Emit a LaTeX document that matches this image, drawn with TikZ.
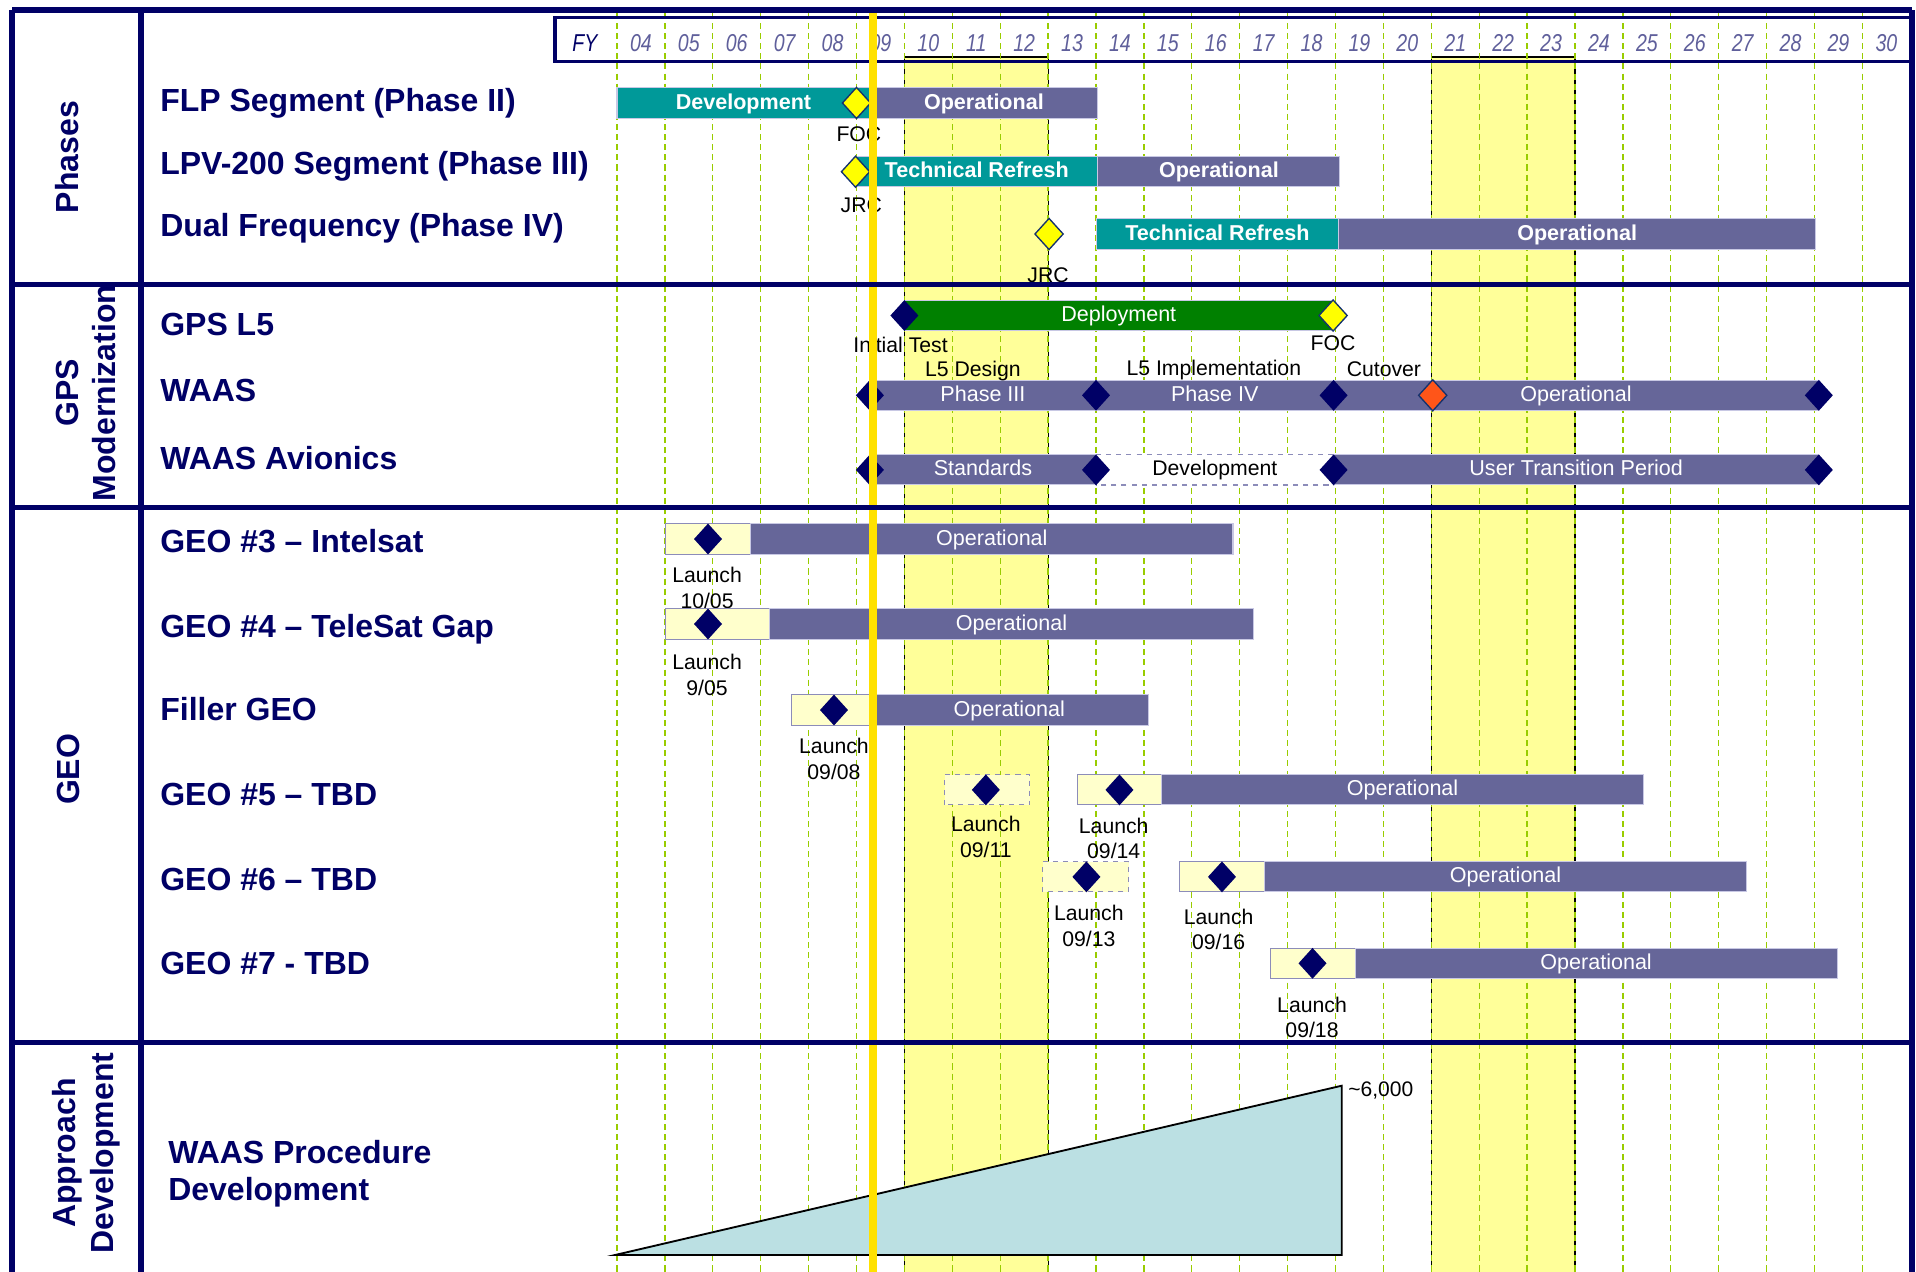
\documentclass[tikz,border=0pt]{standalone}
\usepackage{fontspec}
\setmainfont{Liberation Sans}
\newfontfamily\fyfont[FakeStretch=0.8]{Liberation Sans}
\usetikzlibrary{shapes.geometric}

\definecolor{navy}{RGB}{0,0,102}
\definecolor{tealbar}{RGB}{0,153,153}
\definecolor{slatebar}{RGB}{102,102,153}
\definecolor{greenbar}{RGB}{0,128,0}
\definecolor{msyellow}{RGB}{255,255,0}
\definecolor{msorange}{RGB}{255,85,25}
\definecolor{msedge}{RGB}{20,50,110}
\definecolor{hiyellow}{RGB}{255,255,153}
\definecolor{geobox}{RGB}{255,255,204}
\definecolor{nowline}{RGB}{255,225,0}
\definecolor{gridgreen}{RGB}{153,204,0}
\definecolor{fygray}{RGB}{95,95,155}
\definecolor{barline}{RGB}{200,200,228}
\definecolor{boxline}{RGB}{140,140,185}
\definecolor{rampfill}{RGB}{187,224,227}

\begin{document}
\begin{tikzpicture}
	\tikzset{frame/.style = {draw=navy, line width=3pt}}
	\tikzset{gridline/.style = {draw=gridgreen, line width=0.8pt, dash pattern=on 3.6pt off 2.4pt}}
	\tikzset{bar/.style = {draw=barline, line width=0.6pt}}
	\tikzset{launchbox/.style = {fill=geobox, draw=boxline, line width=0.6pt}}
	\tikzset{milestone/.style = {shape=diamond, fill=navy, inner sep=0pt, minimum width=0.59cm, minimum height=0.65cm}}
	\tikzset{keydate/.style = {milestone, draw=msedge, line width=0.8pt, minimum width=0.6cm, minimum height=0.66cm}}
	\tikzset{rowlabel/.style = {anchor=base west, inner sep=0pt, text=navy, font=\bfseries\fontsize{19}{22}\selectfont}}
	\tikzset{section/.style = {rotate=90, align=center, inner sep=0pt, text=navy, font=\bfseries\fontsize{19}{22.5}\selectfont}}
	\tikzset{boldlabel/.style = {text=white, inner sep=0pt, text height=0.72em, text depth=0pt, font=\bfseries\fontsize{12.8}{15}\selectfont}}
	\tikzset{barlabel/.style = {text=white, inner sep=0pt, text height=0.72em, text depth=0pt, font=\fontsize{12.8}{15}\selectfont}}
	\tikzset{note/.style = {align=center, inner sep=0pt, font=\fontsize{12.6}{15.2}\selectfont}}
	\useasboundingbox (-8.881,-26.555) rectangle (31.119,0);
	\fill[white] (-8.881,-26.555) rectangle (31.119,0);
	% highlighted years
	\foreach \xa/\xb in {10/13, 21/24} {
		\fill[hiyellow] (\xa,-1.19) rectangle (\xb,-26.6);
		\draw[black, line width=0.7pt] (\xa,-26.6) -- (\xa,-1.19) -- (\xb,-1.19) -- (\xb,-26.6);
	}
	% year grid
	\foreach \x in {4,...,30}
		\draw[gridline] (\x,-0.27) -- (\x,-26.6);
	% fiscal years
	\draw[navy, line width=2.1pt] (2.706,-0.37) rectangle (31.03,-1.28);
	\node[text=navy, font=\fyfont\itshape\fontsize{14.5}{16}\selectfont] (fy) at (3.33,-0.898) {FY};
	\foreach \x in {4,...,30}
		\node[text=fygray, font=\fyfont\itshape\fontsize{14.5}{16}\selectfont] (fy\x) at (\x+0.5,-0.898) {\ifnum\x<10 0\fi\x};
	% row labels
	\node[rowlabel] (flp) at (-5.541,-2.332) {FLP Segment (Phase II)};
	\node[rowlabel] (lpv) at (-5.541,-3.653) {LPV-200 Segment (Phase III)};
	\node[rowlabel] (dual) at (-5.541,-4.941) {Dual Frequency (Phase IV)};
	\node[rowlabel] (gpsl5) at (-5.541,-6.994) {GPS L5};
	\node[rowlabel] (waas) at (-5.541,-8.386) {WAAS};
	\node[rowlabel] (avionics) at (-5.541,-9.798) {WAAS Avionics};
	\node[rowlabel] (geo3) at (-5.541,-11.531) {GEO \#3 -- Intelsat};
	\node[rowlabel] (geo4) at (-5.541,-13.299) {GEO \#4 -- TeleSat Gap};
	\node[rowlabel] (filler) at (-5.541,-15.052) {Filler GEO};
	\node[rowlabel] (geo5) at (-5.541,-16.815) {GEO \#5 -- TBD};
	\node[rowlabel] (geo6) at (-5.541,-18.583) {GEO \#6 -- TBD};
	\node[rowlabel] (geo7) at (-5.541,-20.338) {GEO \#7 - TBD};
	\node[rowlabel, anchor=west, align=left] (procdev) at (-5.374,-24.50) {WAAS Procedure\\Development};
	% section labels
	\node[section] (phases) at (-7.482,-3.278) {Phases};
	\node[section] (gpsmod) at (-7.086,-8.205) {GPS\\Modernization};
	\node[section] (geo) at (-7.45,-16.063) {GEO};
	\node[section] (appdev) at (-7.086,-24.071) {Approach\\Development};
	% phases
	\begin{scope}[yshift=-2.15cm]
		\path[bar, fill=tealbar] (4,-0.315) rectangle (9.28,0.315) node[midway, boldlabel] (dev1) {Development};
		\path[bar, fill=slatebar] (9.28,-0.315) rectangle (14.04,0.315) node[midway, boldlabel] (op1) {Operational};
		\node[keydate, fill=msyellow] (foc1) at (9.0,0) {};
		\node[note] (foc1lbl) at (9.05,-0.662) {FOC};
	\end{scope}
	\begin{scope}[yshift=-3.585cm]
		\path[bar, fill=tealbar] (8.98,-0.315) rectangle (14.04,0.315) node[midway, boldlabel] (ref2) {Technical Refresh};
		\path[bar, fill=slatebar] (14.04,-0.315) rectangle (19.09,0.315) node[midway, boldlabel] (op2) {Operational};
		\node[keydate, fill=msyellow] (jrc2) at (8.98,0) {};
		\node[note] (jrc2lbl) at (9.1,-0.695) {JRC};
	\end{scope}
	\begin{scope}[yshift=-4.885cm]
		\path[bar, fill=tealbar] (14.0,-0.315) rectangle (19.07,0.315) node[midway, boldlabel] (ref3) {Technical Refresh};
		\path[bar, fill=slatebar] (19.07,-0.315) rectangle (29.02,0.315) node[midway, boldlabel] (op3) {Operational};
		\node[keydate, fill=msyellow] (jrc3) at (13.02,0) {};
		\node[note] (jrc3lbl) at (13.0,-0.856) {JRC};
	\end{scope}
	% gps modernization
	\begin{scope}[yshift=-6.587cm]
		\path[bar, fill=greenbar] (10.0,-0.315) rectangle (18.95,0.315) node[midway, barlabel] (deploy) {Deployment};
		\node[milestone] (inittest) at (10.0,0) {};
		\node[keydate, fill=msyellow] (focl5) at (18.95,0) {};
		\node[note] (inittestlbl) at (9.92,-0.616) {Initial Test};
		\node[note] (focl5lbl) at (18.95,-0.574) {FOC};
	\end{scope}
	\begin{scope}[yshift=-8.253cm]
		\path[bar, fill=slatebar] (9.28,-0.315) rectangle (29.09,0.315);
		\node[barlabel] (ph3) at (11.64,0) {Phase III};
		\node[barlabel] (ph4) at (16.48,0) {Phase IV};
		\node[barlabel] (waasop) at (24.02,0) {Operational};
		\foreach \x [count=\i] in {9.28, 14.0, 18.96, 29.09}
			\node[milestone] (waasm\i) at (\x,0) {};
		\node[keydate, fill=msorange] (cutover) at (21.03,0) {};
		\node[note] (l5design) at (11.43,0.514) {L5 Design};
		\node[note] (l5impl) at (16.46,0.529) {L5 Implementation};
		\node[note] (cutoverlbl) at (20.01,0.549) {Cutover};
	\end{scope}
	\begin{scope}[yshift=-9.81cm]
		\path[bar, fill=slatebar] (9.28,-0.315) rectangle (14.0,0.315) node[midway, barlabel] (stds) {Standards};
		\path[fill=white, draw=boxline, line width=0.7pt, dashed] (14.0,-0.315) rectangle (18.96,0.315) node[midway, note, text height=0.72em, text depth=0pt] (avdev) {Development};
		\path[bar, fill=slatebar] (18.96,-0.315) rectangle (29.09,0.315) node[midway, barlabel] (transition) {User Transition Period};
		\foreach \x [count=\i] in {9.28, 14.0, 18.96, 29.09}
			\node[milestone] (avm\i) at (\x,0) {};
	\end{scope}
	% geo
	\begin{scope}[yshift=-11.253cm]
		\path[launchbox] (5.02,-0.315) rectangle (6.79,0.315);
		\path[bar, fill=slatebar] (6.79,-0.315) rectangle (16.86,0.315) node[midway, barlabel] (op3geo) {Operational};
		\node[milestone] (launch3) at (5.90,0) {};
		\node[note] (launch3lbl) at (5.88,-1.017) {Launch\\10/05};
	\end{scope}
	\begin{scope}[yshift=-13.027cm]
		\path[launchbox] (5.02,-0.315) rectangle (7.18,0.315);
		\path[bar, fill=slatebar] (7.18,-0.315) rectangle (17.29,0.315) node[midway, barlabel] (op4geo) {Operational};
		\node[milestone] (launch4) at (5.90,0) {};
		\node[note] (launch4lbl) at (5.88,-1.065) {Launch\\9/05};
	\end{scope}
	\begin{scope}[yshift=-14.823cm]
		\path[launchbox] (7.65,-0.315) rectangle (9.28,0.315);
		\path[bar, fill=slatebar] (9.28,-0.315) rectangle (15.10,0.315) node[midway, barlabel] (opfiller) {Operational};
		\node[milestone] (launchf) at (8.53,0) {};
		\node[note] (launchflbl) at (8.53,-1.026) {Launch\\09/08};
	\end{scope}
	\begin{scope}[yshift=-16.49cm]
		\path[launchbox, dashed] (10.84,-0.315) rectangle (12.62,0.315);
		\node[milestone] (launch5a) at (11.70,0) {};
		\node[note] (launch5albl) at (11.70,-0.984) {Launch\\09/11};
		\path[launchbox] (13.61,-0.315) rectangle (15.37,0.315);
		\path[bar, fill=slatebar] (15.37,-0.315) rectangle (25.43,0.315) node[midway, barlabel] (op5geo) {Operational};
		\node[milestone] (launch5b) at (14.49,0) {};
		\node[note] (launch5blbl) at (14.37,-1.009) {Launch\\09/14};
	\end{scope}
	\begin{scope}[yshift=-18.306cm]
		\path[launchbox, dashed] (12.885,-0.315) rectangle (14.68,0.315);
		\node[milestone] (launch6a) at (13.80,0) {};
		\node[note] (launch6albl) at (13.85,-1.019) {Launch\\09/13};
		\path[launchbox] (15.75,-0.315) rectangle (17.52,0.315);
		\path[bar, fill=slatebar] (17.52,-0.315) rectangle (27.58,0.315) node[midway, barlabel] (op6geo) {Operational};
		\node[milestone] (launch6b) at (16.63,0) {};
		\node[note] (launch6blbl) at (16.56,-1.093) {Launch\\09/16};
	\end{scope}
	\begin{scope}[yshift=-20.111cm]
		\path[launchbox] (17.64,-0.315) rectangle (19.41,0.315);
		\path[bar, fill=slatebar] (19.41,-0.315) rectangle (29.47,0.315) node[midway, barlabel] (op7geo) {Operational};
		\node[milestone] (launch7) at (18.52,0) {};
		\node[note] (launch7lbl) at (18.51,-1.131) {Launch\\09/18};
	\end{scope}
	% approach development
	\coordinate (ramp0) at (3.96,-26.20);
	\coordinate (ramp1) at (19.13,-26.20);
	\coordinate (ramp2) at (19.13,-22.666);
	\filldraw[fill=rampfill, draw=black, line width=1.1pt] (ramp0) -- (ramp1) -- (ramp2) -- cycle;
	\node[note, anchor=west, font=\fontsize{12.5}{14}\selectfont] (rampmax) at (19.26,-22.756) {\textasciitilde 6,000};
	% today
	\draw[nowline, line width=4.8pt] (9.351,-0.209) -- (9.351,-26.6);
	% frame
	\draw[frame] (-8.626,-0.209) -- (31.03,-0.209);
	\foreach \y in {-5.933, -10.595, -21.754}
		\draw[frame] (-8.626,\y) -- (31.03,\y);
	\foreach \x in {-8.626, -5.944, 31.03}
		\draw[frame, line width=3.5pt] (\x,-0.209) -- (\x,-26.6);
\end{tikzpicture}
\end{document}
